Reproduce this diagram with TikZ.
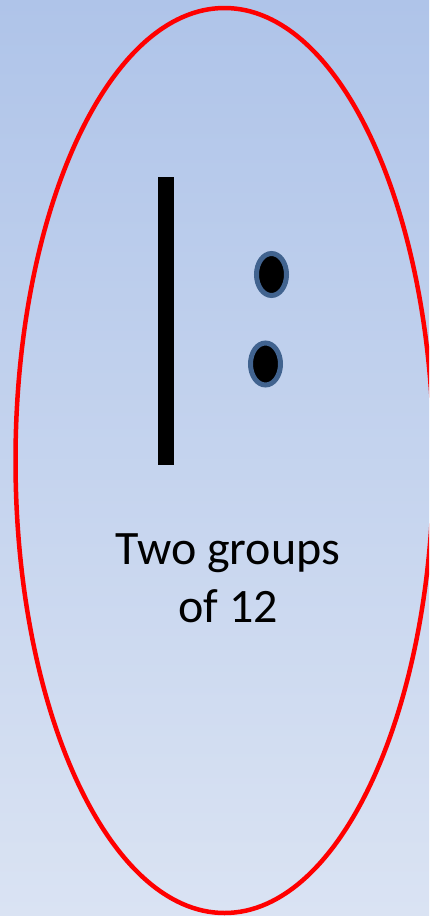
\documentclass[tikz,border=0pt]{standalone}
\usepackage{fontspec}
\setmainfont{Carlito}
\usetikzlibrary{shapes.geometric}
\definecolor{BgTop}{HTML}{AFC4E9}
\definecolor{BgBottom}{HTML}{DAE3F3}
\definecolor{DotEdge}{HTML}{41638F}

\begin{document}
\begin{tikzpicture}[
  x=1pt, y=-1pt,
  grpdot/.style={ellipse, draw=DotEdge, fill=black, line width=5pt,
    minimum width=30pt, minimum height=42pt, inner sep=0pt},
  ring/.style={ellipse, draw=red, line width=4.5pt, minimum width=418pt,
    minimum height=905pt, inner sep=0pt}
]
  % background
  \shade[top color=BgTop, bottom color=BgBottom] (0,0) rectangle (429,916);
  \useasboundingbox (0,0) rectangle (429,916);
  \begin{scope}
    \clip (0,0) rectangle (429,916);
    \node[ring] (oval) at (224.5,460.5) {};
  \end{scope}
  \node[fill=black, minimum width=16pt, minimum height=288pt, inner sep=0pt] (bar) at (166,321) {};
  \node[grpdot] (d1) at (271.5,274.5) {};
  \node[grpdot] (d2) at (265.5,364) {};
  \node[font=\fontsize{48}{58}\selectfont, align=center, anchor=base] (txt) at (228,622) {Two groups\\of 12};
\end{tikzpicture}
\end{document}
